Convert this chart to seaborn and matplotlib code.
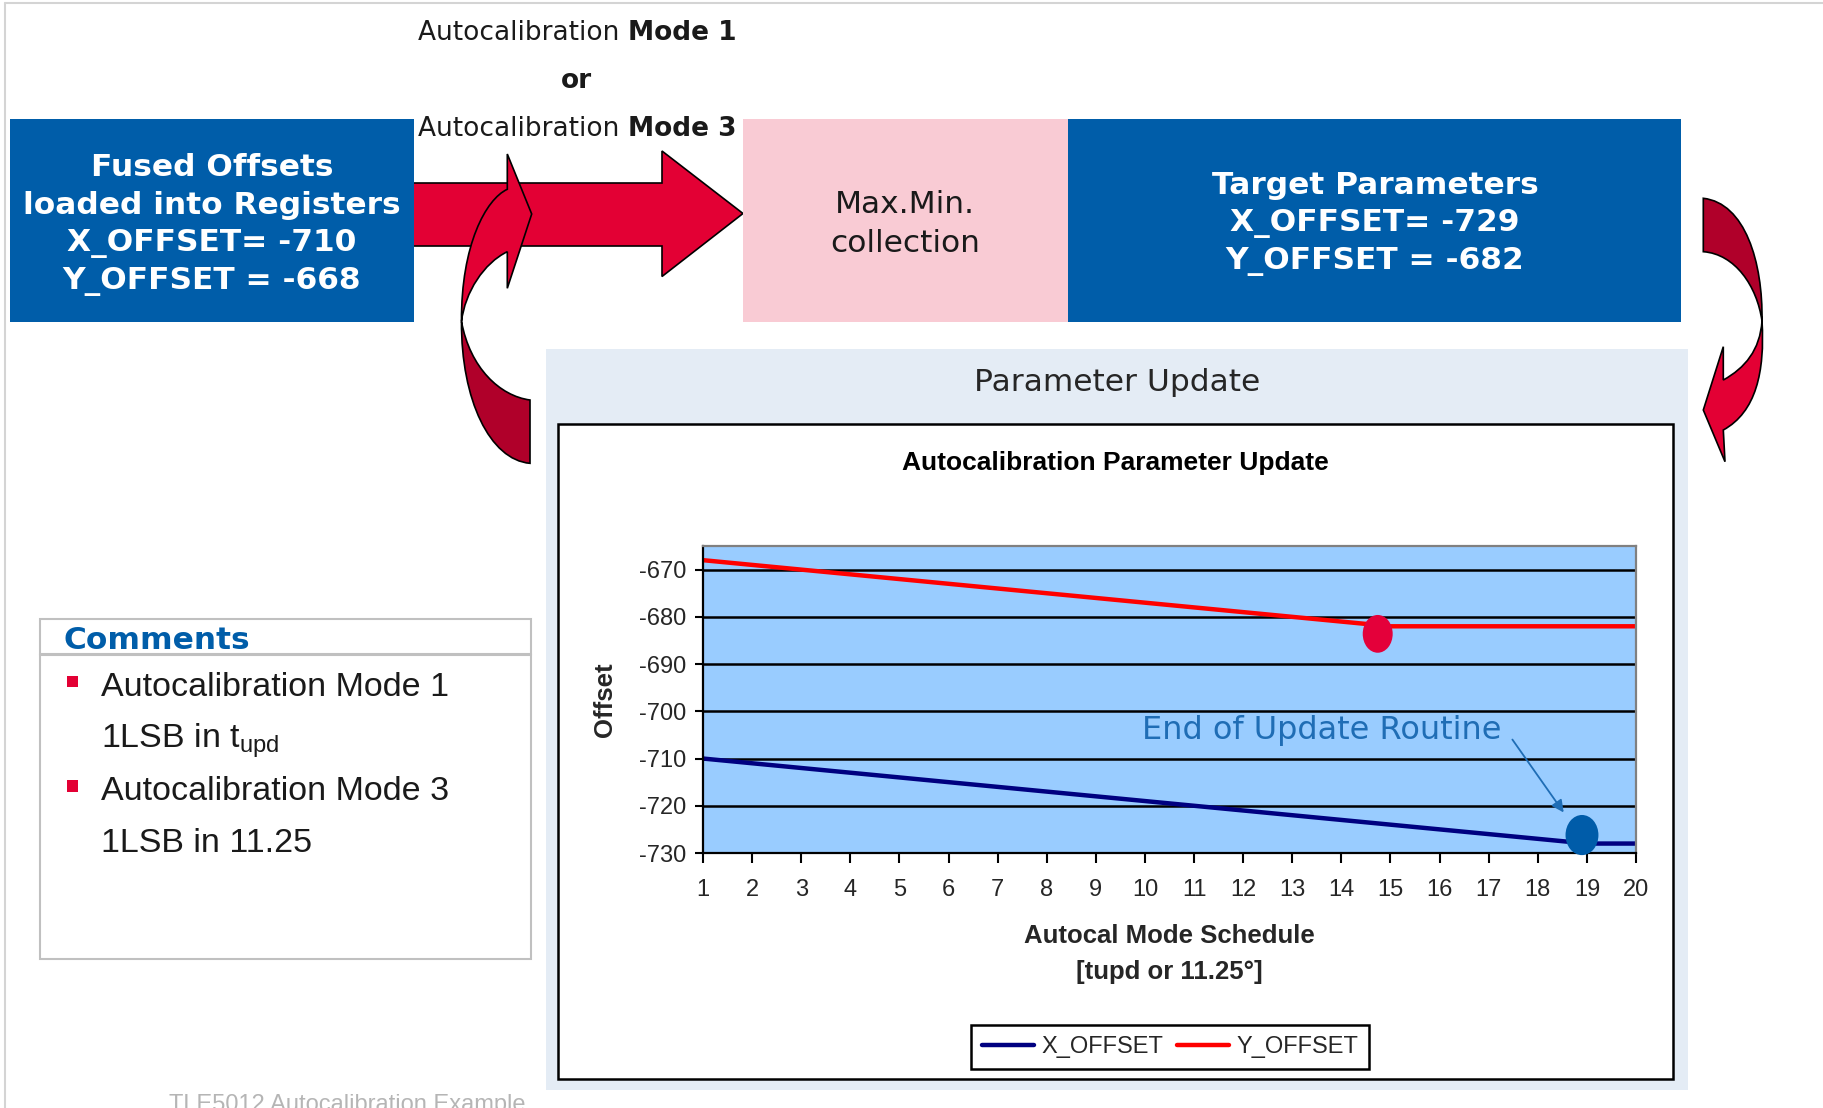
import numpy as np
import pandas as pd
import matplotlib
matplotlib.use("Agg")
import matplotlib.pyplot as plt
import seaborn as sns
from matplotlib.patches import Rectangle, Ellipse, PathPatch, Polygon
from matplotlib.path import Path

# ---------------- data ----------------
schedule = list(range(1, 21))
x_offset = [-710, -711, -712, -713, -714, -715, -716, -717, -718, -719,
            -720, -721, -722, -723, -724, -725, -726, -727, -728, -728]
y_offset = [-668, -669, -670, -671, -672, -673, -674, -675, -676, -677,
            -678, -679, -680, -681, -682, -682, -682, -682, -682, -682]
series_names = ["X_OFFSET", "Y_OFFSET"]
y_ticks = [-730, -720, -710, -700, -690, -680, -670]
end_marker_x = [14.74, 18.9]
end_marker_y = [-683.6, -726.2]
annot_text = "End of Update Routine"
annot_text_pos = (9.94, -704.0)
annot_arrow_start = (17.45, -705.5)
annot_arrow_end = (18.56, -721.9)

left_box_lines = ["Fused Offsets", "loaded into Registers", "X_OFFSET= -710", "Y_OFFSET = -668"]
pink_box_lines = ["Max.Min.", "collection"]
right_box_lines = ["Target Parameters", "X_OFFSET= -729", "Y_OFFSET = -682"]
comment_lines = ["Autocalibration Mode 1", "1LSB in t$_{\\mathrm{upd}}$",
                 "Autocalibration Mode 3", "1LSB in 11.25"]

# ---------------- style ----------------
sns.set_style("white")
plt.rcParams["font.family"] = ["Liberation Sans", "DejaVu Sans"]
plt.rcParams["mathtext.fontset"] = "custom"
plt.rcParams["mathtext.rm"] = "Liberation Sans"
plt.rcParams["axes.unicode_minus"] = False

BLUE = "#005DA9"
RED = "#E30034"
DRED = "#B0002A"
PINK = "#F9CBD4"
PANEL = "#E4ECF5"
VER = "DejaVu Sans"

W, H = 1824, 1108
fig = plt.figure(figsize=(W / 100, H / 100), dpi=100)
bg = fig.add_axes([0, 0, 1, 1], zorder=0)
bg.set_xlim(0, W)
bg.set_ylim(H, 0)
bg.axis("off")

# frame lines
bg.plot([5.5, 5.5], [3, H], color="#D4D4D4", lw=1.5)
bg.plot([5.5, W], [3, 3], color="#D4D4D4", lw=1.5)

# panel and chart box
bg.add_patch(Rectangle((546, 349), 1688 - 546, 1090 - 349, fc=PANEL, ec="none"))
bg.add_patch(Rectangle((558, 424), 1673 - 558, 1079 - 424, fc="white", ec="black", lw=1.8))
bg.text(1117, 382.5, "Parameter Update", family=VER, fontsize=22.5, color="#262626",
        ha="center", va="center")
bg.text(1115, 463, "Autocalibration Parameter Update", fontsize=19, fontweight="bold",
        ha="center", va="center", color="black")

# straight arrow
arrow_pts = [(410, 183), (662, 183), (662, 151), (743, 213.5), (662, 276.5), (662, 246), (410, 246)]
bg.add_patch(Polygon(arrow_pts, closed=True, fc=RED, ec="black", lw=1.2, joinstyle="miter"))

# boxes
bg.add_patch(Rectangle((10, 119), 404, 203, fc=BLUE, ec="none"))
bg.add_patch(Rectangle((743, 119), 325, 203, fc=PINK, ec="none"))
bg.add_patch(Rectangle((1068, 119), 613, 203, fc=BLUE, ec="none"))

for txt, yy in zip(left_box_lines, [167, 205.5, 244, 282]):
    bg.text(212, yy, txt, family=VER, fontsize=22.5, fontweight="bold", color="white",
            ha="center", va="center")
for txt, yy in zip(pink_box_lines, [204.5, 243]):
    bg.text(905, yy, txt, family=VER, fontsize=22.5, color="#1A1A1A", ha="center", va="center")
for txt, yy in zip(right_box_lines, [185, 223.5, 262]):
    bg.text(1375, yy, txt, family=VER, fontsize=22.5, fontweight="bold", color="white",
            ha="center", va="center")

# top labels
for num, yy in zip(["1", "3"], [32.8, 129.3]):
    bg.text(628, yy, "Autocalibration ", family=VER, fontsize=19, color="#1A1A1A",
            ha="right", va="center")
    bg.text(628, yy, "Mode " + num, family=VER, fontsize=19, fontweight="bold",
            color="#1A1A1A", ha="left", va="center")
bg.text(576, 81.3, "or", family=VER, fontsize=19, fontweight="bold", color="#1A1A1A",
        ha="center", va="center")

# curved arrow (left)
up_verts = [(507.3, 189.3), (486, 199), (461, 245), (461.5, 321.5),
            (465, 292), (484, 263), (507.3, 251.7),
            (507.3, 288.3), (531.7, 214), (507.3, 154), (507.3, 189.3)]
up_codes = [Path.MOVETO, Path.CURVE4, Path.CURVE4, Path.CURVE4,
            Path.CURVE4, Path.CURVE4, Path.CURVE4,
            Path.LINETO, Path.LINETO, Path.LINETO, Path.CLOSEPOLY]
lo_verts = [(461.5, 321.5), (461, 400), (490, 460), (530, 463.3),
            (530, 400), (500, 396), (470, 368), (461.5, 321.5), (461.5, 321.5)]
lo_codes = [Path.MOVETO, Path.CURVE4, Path.CURVE4, Path.CURVE4,
            Path.LINETO, Path.CURVE4, Path.CURVE4, Path.CURVE4, Path.CLOSEPOLY]
bg.add_patch(PathPatch(Path(lo_verts, lo_codes), fc=DRED, ec="black", lw=1.2))
bg.add_patch(PathPatch(Path(up_verts, up_codes), fc=RED, ec="black", lw=1.2, joinstyle="miter"))

# curved arrow (right)
rd_verts = [(1703.3, 198.3), (1745, 203), (1763, 262), (1762, 321),
            (1757, 286), (1735, 254), (1703.3, 251.7), (1703.3, 198.3)]
rd_codes = [Path.MOVETO, Path.CURVE4, Path.CURVE4, Path.CURVE4,
            Path.CURVE4, Path.CURVE4, Path.CURVE4, Path.CLOSEPOLY]
rb_verts = [(1762, 321), (1765, 372), (1756, 412), (1723.3, 430),
            (1725, 461.7), (1703.3, 410), (1723.3, 346.7), (1723.3, 380),
            (1745, 368), (1760, 350), (1762, 321), (1762, 321)]
rb_codes = [Path.MOVETO, Path.CURVE4, Path.CURVE4, Path.CURVE4,
            Path.LINETO, Path.LINETO, Path.LINETO, Path.LINETO,
            Path.CURVE4, Path.CURVE4, Path.CURVE4, Path.CLOSEPOLY]
bg.add_patch(PathPatch(Path(rd_verts, rd_codes), fc=DRED, ec="black", lw=1.2))
bg.add_patch(PathPatch(Path(rb_verts, rb_codes), fc=RED, ec="black", lw=1.2, joinstyle="miter"))

# comments box
bg.add_patch(Rectangle((40, 619), 491, 35, fc="white", ec="#C0C0C0", lw=1.5))
bg.add_patch(Rectangle((40, 655), 491, 304, fc="white", ec="#C0C0C0", lw=1.5))
bg.text(64, 640.5, "Comments", family=VER, fontsize=22.5, fontweight="bold", color=BLUE,
        ha="left", va="center")
for by in [681.5, 786]:
    bg.add_patch(Rectangle((67, by - 6), 11.5, 11.5, fc=RED, ec="none"))
for txt, yy in zip(comment_lines, [687.5, 741, 791, 843.5]):
    bg.text(101, yy, txt, fontsize=24.5, color="#1A1A1A", ha="left", va="center")

# footer (cut by the slide edge, as in the original)
bg.text(169, 1094, "TLE5012 Autocalibration Example", fontsize=17, color="#B5B5B5",
        ha="left", va="top")

# ---------------- chart ----------------
ax = fig.add_axes([703 / W, 1 - 853 / H, 933 / W, 307 / H], zorder=2)
df = pd.DataFrame({
    "step": schedule * 2,
    "offset": x_offset + y_offset,
    "series": [series_names[0]] * len(schedule) + [series_names[1]] * len(schedule),
})
sns.lineplot(data=df, x="step", y="offset", hue="series",
             palette={"X_OFFSET": "#000080", "Y_OFFSET": "#FF0000"},
             linewidth=3.2, ax=ax)
ax.set_facecolor("#99CCFF")
ax.set_xlim(1, 20)
ax.set_ylim(-730, -665)
ax.set_xticks(schedule)
ax.set_yticks(y_ticks)
ax.yaxis.grid(True, color="black", lw=1.8)
ax.xaxis.grid(False)
ax.set_axisbelow(True)
for s in ["left", "bottom"]:
    ax.spines[s].set_color("black")
    ax.spines[s].set_linewidth(1.6)
for s in ["top", "right"]:
    ax.spines[s].set_color("#808080")
    ax.spines[s].set_linewidth(1.6)
ax.tick_params(axis="x", direction="out", length=7, width=1.5, color="black",
               labelsize=17, pad=12, bottom=True)
ax.tick_params(axis="y", direction="out", length=6, width=1.5, color="black",
               labelsize=17, pad=6, left=True)

ax.set_ylabel("Offset", fontsize=18.5, fontweight="bold")
ax.yaxis.label.set_va("center")
ax.yaxis.set_label_coords(-0.105, 0.5)
ax.set_xlabel("Autocal Mode Schedule\n[tupd or 11.25°]", fontsize=18.5,
              fontweight="bold", linespacing=1.65)
ax.xaxis.label.set_va("center")
ax.xaxis.set_label_coords(0.5, -0.329)

# end markers
marker_cols = ["#E4003A", "#005CA9"]
marker_w = [0.61, 0.67]
marker_h = [8.0, 8.5]
for mx, my, mc, mw, mh in zip(end_marker_x, end_marker_y, marker_cols, marker_w, marker_h):
    ax.add_patch(Ellipse((mx, my), mw, mh, fc=mc, ec="none", zorder=5, clip_on=False))

ax.text(annot_text_pos[0], annot_text_pos[1], annot_text, family=VER, fontsize=23,
        color="#1F6DB5", ha="left", va="center")
ax.annotate("", xy=annot_arrow_end, xytext=annot_arrow_start,
            arrowprops=dict(arrowstyle="-|>", color="#1F6DB5", lw=1.3, mutation_scale=18))

handles, labels = ax.get_legend_handles_labels()
ax.get_legend().remove()
leg = fig.legend(handles, labels, loc="center", bbox_to_anchor=(1170 / W, 1 - 1047 / H),
                 ncol=2, frameon=True, fancybox=False, edgecolor="black", framealpha=1,
                 fontsize=17, handlelength=2.2, handletextpad=0.3, columnspacing=0.6,
                 borderpad=0.45)
leg.get_frame().set_linewidth(1.8)
leg.set_zorder(5)

fig.savefig("out.png", dpi=100)
